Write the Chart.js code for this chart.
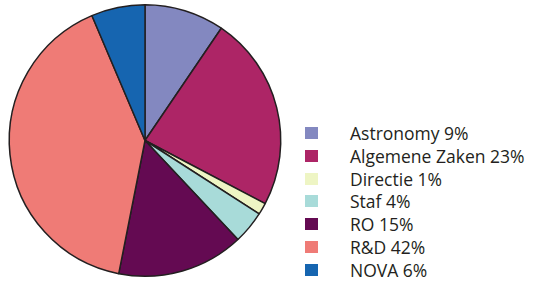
<!DOCTYPE html>
<html>
<head>
<meta charset="utf-8">
<script src="https://cdn.jsdelivr.net/npm/chart.js@4"></script>
<style>
  html, body { margin: 0; padding: 0; background: #fff; }
  #wrap { position: relative; width: 535px; height: 281px; }
  #pie-box { position: absolute; left: 0; top: 0; width: 290px; height: 281px; }
  #legend { position: absolute; left: 305px; top: 122px; margin: 0; padding: 0; list-style: none;
            font-family: "Open Sans", sans-serif; font-size: 17.5px; color: #231f20; }
  #legend li { height: 22.8px; line-height: 22.8px; position: relative; padding-left: 45px; white-space: nowrap; }
  #legend li span { position: absolute; left: 0; top: 5px; width: 13px; height: 12px; }
</style>
</head>
<body>
<div id="wrap">
  <div id="pie-box"><canvas id="chart-budget"></canvas></div>
  <ul id="legend"></ul>
</div>
<script>
const labels = ['Astronomy', 'Algemene Zaken', 'Directie', 'Staf', 'RO', 'R&D', 'NOVA'];
const legendPct = [9, 23, 1, 4, 15, 42, 6];
const shares = [9.5, 23.2, 1.4, 3.9, 15.1, 40.5, 6.4];
const colors = ['#8388c0', '#ad2566', '#eef5c4', '#a8dbd9', '#640a52', '#ef7b76', '#1665b0'];

const legendEl = document.getElementById('legend');
labels.forEach((name, i) => {
    const li = document.createElement('li');
    li.innerHTML = `<span style="background:${colors[i]}"></span>${name} ${legendPct[i]}%`;
    legendEl.appendChild(li);
});

new Chart(document.getElementById('chart-budget'), {
    type: 'pie',
    data: {
        labels: labels,
        datasets: [{
            data: shares,
            backgroundColor: colors,
            borderColor: '#231f20',
            borderWidth: 1.5
        }]
    },
    options: {
        responsive: true,
        maintainAspectRatio: false,
        animation: false,
        layout: { padding: 4 },
        plugins: { legend: { display: false }, tooltip: { enabled: false } }
    }
});
</script>
</body>
</html>
